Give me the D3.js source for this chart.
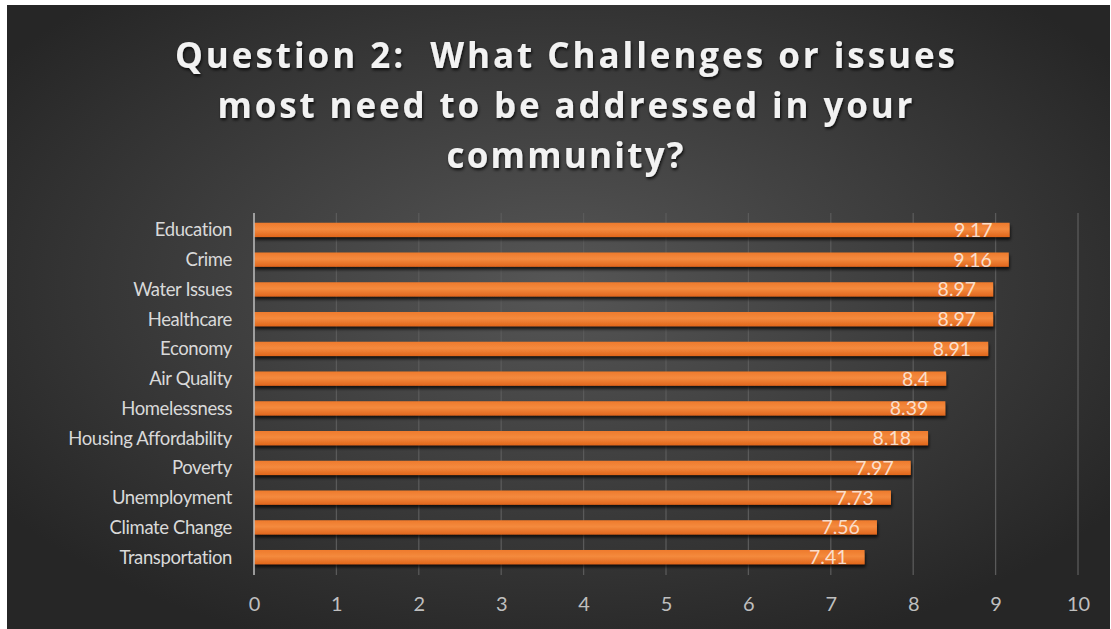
<!DOCTYPE html>
<html><head><meta charset="utf-8">
<script src="https://cdn.jsdelivr.net/npm/d3@7"></script>
<style>html,body{margin:0;padding:0;background:#fff;}svg{display:block;}text{font-variant-ligatures:none;font-feature-settings:"liga" 0;}</style>
</head><body>
<svg id="chart" width="1111" height="629"></svg>
<script>
const categories = ["Education","Crime","Water Issues","Healthcare","Economy","Air Quality","Homelessness","Housing Affordability","Poverty","Unemployment","Climate Change","Transportation"];
const values = [9.17,9.16,8.97,8.97,8.91,8.4,8.39,8.18,7.97,7.73,7.56,7.41];
const tickValues = [0,1,2,3,4,5,6,7,8,9,10];
const titleLines = ["Question 2:  What Challenges or issues","most need to be addressed in your","community?"];

const svg = d3.select("#chart");
const W = 1111, H = 629;
const defs = svg.append("defs");
const rg = defs.append("radialGradient").attr("id","bg").attr("cx","50%").attr("cy","45%").attr("r","62%")
  .attr("gradientUnits","objectBoundingBox");
rg.append("stop").attr("offset","0%").attr("stop-color","#565656");
rg.append("stop").attr("offset","100%").attr("stop-color","#262626");
const bg = defs.append("linearGradient").attr("id","bar").attr("x1",0).attr("y1",0).attr("x2",0).attr("y2",1);
bg.append("stop").attr("offset","0%").attr("stop-color","#ee7a2c");
bg.append("stop").attr("offset","45%").attr("stop-color","#f48a3e");
bg.append("stop").attr("offset","100%").attr("stop-color","#e0661c");
const f = defs.append("filter").attr("id","sh").attr("x","-5%").attr("y","-50%").attr("width","110%").attr("height","250%");
f.append("feDropShadow").attr("dx",1).attr("dy",3).attr("stdDeviation",1.5).attr("flood-color","#000").attr("flood-opacity",0.7);
const tf = defs.append("filter").attr("id","tsh").attr("x","-5%").attr("y","-30%").attr("width","110%").attr("height","160%");
tf.append("feDropShadow").attr("dx",1).attr("dy",2).attr("stdDeviation",1.5).attr("flood-color","#000").attr("flood-opacity",0.8);

svg.append("rect").attr("x",7).attr("y",5).attr("width",W-8).attr("height",H-5).attr("fill","url(#bg)");

// title
const tg = svg.append("g").attr("filter","url(#tsh)");
const titleBase = [68, 118, 168];
const titleWidths = [780, 695, 237];
titleLines.forEach((t,i)=>{
  tg.append("text").attr("x",565).attr("y",titleBase[i]).attr("text-anchor","middle")
    .style("white-space","pre").attr("xml:space","preserve")
    .attr("font-family","'Open Sans', sans-serif").attr("font-weight","bold").attr("font-size",35)
    .attr("fill","#f2f2f2").attr("textLength",titleWidths[i]).attr("lengthAdjust","spacing").text(t);
});

const x = d3.scaleLinear().domain([0,10]).range([254,1078]);
const y = d3.scaleBand().domain(categories).range([215,572]).paddingInner(0.52).paddingOuter(0.26);

// gridlines
svg.append("g").selectAll("line").data(tickValues.filter(d=>d>0)).join("line")
  .attr("x1",d=>x(d)).attr("x2",d=>x(d)).attr("y1",213).attr("y2",575)
  .attr("stroke","#5a5a5a").attr("stroke-width",1.3);

// bars
svg.append("g").selectAll("rect").data(values).join("rect")
  .attr("x",x(0)).attr("y",(d,i)=>y(categories[i])).attr("width",d=>x(d)-x(0)).attr("height",y.bandwidth())
  .attr("fill","url(#bar)").attr("filter","url(#sh)");

// axis line
svg.append("line").attr("x1",x(0)).attr("x2",x(0)).attr("y1",213).attr("y2",575).attr("stroke","#bfbfbf").attr("stroke-width",1.5);

// data labels
svg.append("g").selectAll("text").data(values).join("text")
  .attr("x",d=>x(d)-17).attr("y",(d,i)=>y(categories[i])+y.bandwidth()/2+7)
  .attr("text-anchor","end").attr("font-family","Lato, sans-serif").attr("font-size",19.5)
  .attr("fill","#ffffff").attr("fill-opacity",0.75).text(d=>d);

// category axis
const yAxis = d3.axisLeft(y).tickSize(0).tickPadding(22);
const ya = svg.append("g").attr("transform",`translate(${x(0)},0)`).call(yAxis);
ya.select(".domain").remove();
ya.selectAll("text").attr("font-family","Lato, sans-serif").attr("font-size",18.5).attr("letter-spacing","-0.4px")
  .attr("fill","#d9d9d9").attr("dy","0.35em");

// value axis
const xAxis = d3.axisBottom(x).tickValues(tickValues).tickSize(0).tickPadding(0).tickFormat(d3.format("d"));
const xa = svg.append("g").attr("transform","translate(0,597)").call(xAxis);
xa.select(".domain").remove();
xa.selectAll("text").attr("font-family","Lato, sans-serif").attr("font-size",20).attr("fill","#bfbfbf");
</script>
</body></html>
